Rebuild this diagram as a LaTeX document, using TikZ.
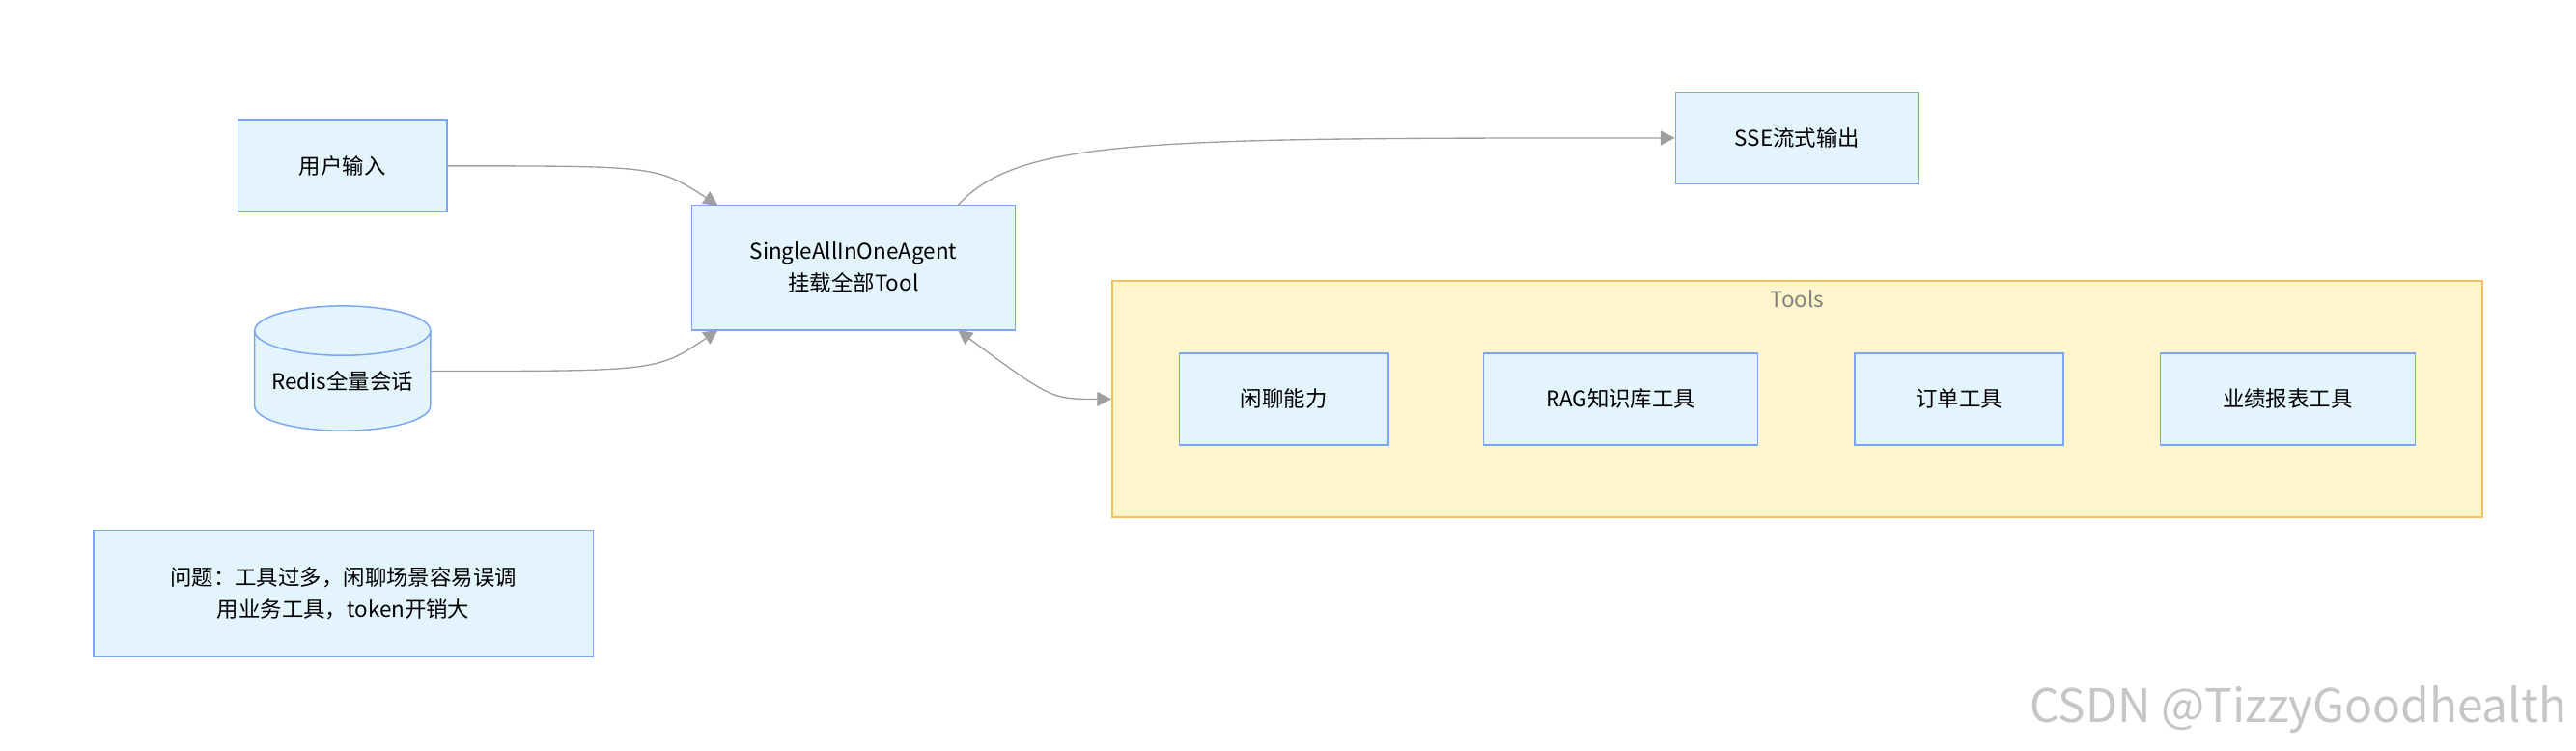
\documentclass[tikz,border=0pt]{standalone}
\usepackage{fontspec}
\setmainfont{Noto Sans CJK SC}
\usetikzlibrary{shapes.geometric,arrows.meta}
\definecolor{boxline}{HTML}{7BA6F5}
\definecolor{boxfill}{HTML}{E3F4FD}
\definecolor{grpline}{HTML}{F5C060}
\definecolor{grpfill}{HTML}{FFF5CC}
\tikzset{
  box/.style={draw=boxline, fill=boxfill, line width=0.5pt, inner sep=0pt, font=\fontsize{7.5}{11}\selectfont, align=center},
  link/.style={draw=gray!75, line width=0.45pt, -{Triangle[length=5pt,width=5pt]}},
}
\begin{document}
\begin{tikzpicture}[x=0.02cm,y=-0.02cm]
  \useasboundingbox (0,0) rectangle (1568,457);
  % cluster
  \node[draw=grpline, fill=grpfill, line width=0.5pt, minimum width=834*0.02cm, minimum height=144*0.02cm] (tools) at (1094,243) {};
  \node[text=gray, font=\fontsize{7.5}{9}\selectfont] (toolslbl) at (1094,182) {Tools};
  % nodes
  \node[box, minimum width=127*0.02cm, minimum height=56*0.02cm] (input) at (208.5,101) {用户输入};
  \node[box, cylinder, shape border rotate=90, aspect=0.35, minimum width=107*0.02cm, minimum height=76*0.02cm] (redis) at (208.5,232) {Redis全量会话};
  \node[box, minimum width=197*0.02cm, minimum height=76*0.02cm] (agent) at (519.5,163) {SingleAllInOneAgent\\挂载全部Tool};
  \node[box, minimum width=148*0.02cm, minimum height=56*0.02cm] (sse) at (1094,84) {SSE流式输出};
  \node[box, minimum width=127*0.02cm, minimum height=56*0.02cm] (chat) at (781.5,243) {闲聊能力};
  \node[box, minimum width=167*0.02cm, minimum height=56*0.02cm] (rag) at (986.5,243) {RAG知识库工具};
  \node[box, minimum width=127*0.02cm, minimum height=56*0.02cm] (order) at (1192.5,243) {订单工具};
  \node[box, minimum width=155*0.02cm, minimum height=56*0.02cm] (report) at (1392.5,243) {业绩报表工具};
  \node[box, minimum width=304*0.02cm, minimum height=77*0.02cm] (issue) at (209,361.5) {问题：工具过多，闲聊场景容易误调\\用业务工具，token开销大};
  \node[text=gray!45, font=\fontsize{16}{18}\selectfont] (mark) at (1399,432) {CSDN @TizzyGoodhealth};
  % edges
  \draw[link] (input.east) .. controls (400,101) .. (437,125);
  \draw[link] (262,226) .. controls (400,226) .. (437,201);
  \draw[link] (583,125) .. controls (620,84) and (700,84) .. (sse.west);
  \draw[link, {Triangle[length=5pt,width=5pt]}-{Triangle[length=5pt,width=5pt]}] (583,201) .. controls (640,243) .. (tools.west);
\end{tikzpicture}
\end{document}
